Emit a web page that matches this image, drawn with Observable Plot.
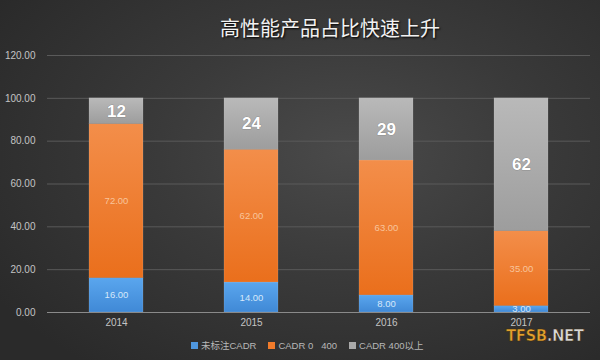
<!DOCTYPE html>
<html>
<head>
<meta charset="utf-8">
<script src="https://cdn.jsdelivr.net/npm/d3@7"></script>
<script src="https://cdn.jsdelivr.net/npm/@observablehq/plot@0.6"></script>
<style>
  html, body { margin: 0; padding: 0; }
  body { width: 600px; height: 360px; overflow: hidden; }
  #wrap {
    position: relative; width: 600px; height: 360px;
    background: radial-gradient(ellipse 70% 75% at 58% 42%, #4a4a4a 0%, #3a3a3a 45%, #2a2a2a 100%);
    font-family: "Liberation Sans", Arial, "Noto Sans CJK SC", sans-serif;
  }
  #title {
    position: absolute; left: 30px; top: 13px; width: 600px; text-align: center;
    font-family: "Noto Sans CJK SC", sans-serif; font-size: 20px; color: #f2f2f2;
    text-shadow: 1px 1px 2px #000;
  }
  #chart { position: absolute; left: 0; top: 45px; }
  #legend {
    position: absolute; left: 191px; top: 338px; display: flex; gap: 12px;
    font-family: "Liberation Sans", Arial, "Noto Sans CJK SC", sans-serif;
    font-size: 9.5px; color: #b8b8b8; align-items: center;
  }
  #legend span.item { display: flex; align-items: center; gap: 3px; }
  #legend i { display: inline-block; width: 7px; height: 7px; }
  #wm {
    position: absolute; left: 506px; top: 327px;
    font-family: "DejaVu Sans", sans-serif; font-weight: bold; font-size: 15px;
    color: #e3a12e; -webkit-text-stroke: 0.6px #3a2a10; letter-spacing: -0.5px;
  }
</style>
</head>
<body>
<div id="wrap">
  <div id="title">高性能产品占比快速上升</div>
  <div id="chart"></div>
  <div id="legend"></div>
  <div id="wm">TFSB<span style="color:#d8d8d8">.NET</span></div>
</div>
<script>
const years = ["2014", "2015", "2016", "2017"];
const seriesNames = ["未标注CADR", "CADR 0   400", "CADR 400以上"];
const unlabeled = [16, 14, 8, 3];
const cadr0to400 = [72, 62, 63, 35];
const cadrAbove400 = [12, 24, 29, 62];
const yTicks = [0, 20, 40, 60, 80, 100, 120];
const seriesColors = ["#4f97df", "#f07b2b", "#a9a9a9"];

const valuesBySeries = [unlabeled, cadr0to400, cadrAbove400];
const data = [];
valuesBySeries.forEach((vals, si) => {
  vals.forEach((v, i) => data.push({year: years[i], series: seriesNames[si], si, value: v}));
});

const fmt2 = d3.format(".2f");

const plot = Plot.plot({
  width: 600,
  height: 295,
  marginTop: 10,
  marginBottom: 28,
  marginLeft: 47,
  marginRight: 10,
  style: {background: "transparent", color: "#c4c4c4", fontSize: "10px", fontFamily: "Liberation Sans, Arial, sans-serif"},
  x: {domain: years, paddingInner: 0.6, paddingOuter: 0.3, label: null, tickSize: 0, tickPadding: 6},
  y: {domain: [0, 120], ticks: yTicks, tickFormat: fmt2, label: null, tickSize: 0, tickPadding: 12},
  marks: [
    Plot.ruleY(yTicks.filter(t => t > 0), {stroke: "#5a5a5a", strokeWidth: 1}),
    Plot.barY(data, Plot.stackY({x: "year", y: "value", z: "si", order: "si",
      fill: d => `url(#grad${d.si})`, stroke: "#d0d0d0", strokeOpacity: 0.25, strokeWidth: 0.7})),
    Plot.ruleY([0], {stroke: "#8a8a8a", strokeWidth: 1.2}),
    Plot.text(data, Plot.stackY({x: "year", y: "value", z: "si", order: "si",
      text: d => d.si === 0 ? fmt2(d.value) : "", fill: "#d6e8fa", fontSize: 9.5})),
    Plot.text(data, Plot.stackY({x: "year", y: "value", z: "si", order: "si",
      text: d => d.si === 1 ? fmt2(d.value) : "", fill: "#f8c49c", fontSize: 9.5})),
    Plot.text(data, Plot.stackY({x: "year", y: "value", z: "si", order: "si",
      text: d => d.si === 2 ? String(d.value) : "", fill: "#ffffff", fontSize: 17, fontWeight: "bold",
      stroke: "#777", strokeWidth: 0.6, paintOrder: "stroke"}))
  ]
});

// gradient definitions for bar fills
const ns = "http://www.w3.org/2000/svg";
const defs = document.createElementNS(ns, "defs");
const grads = [["#5aa6ee", "#4089d6"], ["#f38e4a", "#ea6f1c"], ["#b9b9b9", "#9d9d9d"]];
grads.forEach((g, i) => {
  const lg = document.createElementNS(ns, "linearGradient");
  lg.setAttribute("id", "grad" + i);
  lg.setAttribute("x1", "0"); lg.setAttribute("y1", "0");
  lg.setAttribute("x2", "0"); lg.setAttribute("y2", "1");
  [[0, g[0]], [1, g[1]]].forEach(([o, c]) => {
    const s = document.createElementNS(ns, "stop");
    s.setAttribute("offset", o); s.setAttribute("stop-color", c);
    lg.appendChild(s);
  });
  defs.appendChild(lg);
});
plot.insertBefore(defs, plot.firstChild);
document.getElementById("chart").appendChild(plot);

const legend = document.getElementById("legend");
seriesNames.forEach((name, i) => {
  const item = document.createElement("span");
  item.className = "item";
  const sw = document.createElement("i");
  sw.style.background = seriesColors[i];
  const t = document.createElement("span");
  t.textContent = name;
  t.style.whiteSpace = "pre";
  item.appendChild(sw); item.appendChild(t);
  legend.appendChild(item);
});
</script>
</body>
</html>
